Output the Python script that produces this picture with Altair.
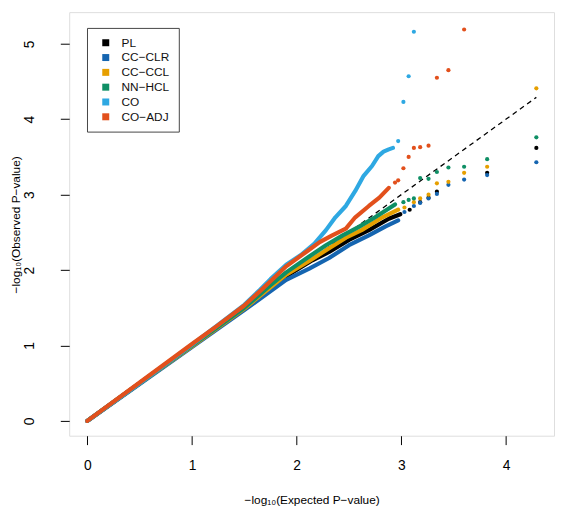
import altair as alt
import pandas as pd

SERIES = ["PL", "CC−CLR", "CC−CCL", "NN−HCL", "CO", "CO−ADJ"]
COLORS = ["#000000", "#1565B0", "#E69F00", "#0F8F65", "#2EA8E2", "#E2501C"]

PL_LINE_X = [0.0, 0.5, 1.0, 1.5, 1.9, 2.15, 2.31, 2.50, 2.69, 2.88, 2.99]
PL_LINE_Y = [0.0, 0.5, 1.0, 1.50, 1.92, 2.13, 2.24, 2.40, 2.53, 2.68, 2.74]
PL_TAIL_X = [3.08, 3.18, 3.26, 3.34, 3.82, 4.29]
PL_TAIL_Y = [2.80, 2.90, 2.96, 3.04, 3.29, 3.62]

CLR_LINE_X = [0.0, 0.5, 1.0, 1.5, 1.9, 2.12, 2.31, 2.50, 2.69, 2.85, 2.97]
CLR_LINE_Y = [0.0, 0.49, 0.98, 1.47, 1.87, 2.02, 2.16, 2.33, 2.46, 2.58, 2.66]
CLR_TAIL_X = [3.03, 3.12, 3.18, 3.26, 3.34, 3.45, 3.60, 3.82, 4.29]
CLR_TAIL_Y = [2.77, 2.85, 2.89, 2.95, 3.01, 3.13, 3.20, 3.26, 3.43]

CCL_LINE_X = [0.0, 0.5, 1.0, 1.5, 1.9, 2.12, 2.31, 2.47, 2.62, 2.82, 2.97]
CCL_LINE_Y = [0.0, 0.5, 0.99, 1.49, 1.94, 2.12, 2.29, 2.43, 2.53, 2.70, 2.80]
CCL_TAIL_X = [3.03, 3.12, 3.18, 3.26, 3.34, 3.45, 3.60, 3.82, 4.29]
CCL_TAIL_Y = [2.83, 2.90, 2.95, 3.00, 3.15, 3.17, 3.29, 3.37, 4.41]

HCL_LINE_X = [0.0, 0.5, 1.0, 1.5, 1.75, 1.90, 2.12, 2.28, 2.44, 2.59, 2.75, 2.94]
HCL_LINE_Y = [0.0, 0.5, 1.0, 1.50, 1.80, 1.97, 2.18, 2.33, 2.46, 2.57, 2.70, 2.87]
HCL_TAIL_X = [3.02, 3.07, 3.12, 3.18, 3.26, 3.34, 3.45, 3.60, 3.82, 4.29]
HCL_TAIL_Y = [2.90, 2.93, 2.95, 3.22, 3.21, 3.30, 3.36, 3.37, 3.47, 3.76]

CO_LINE_X = [0.0, 0.5, 1.0, 1.5, 1.65, 1.75, 1.90, 2.04, 2.17, 2.28, 2.37, 2.47,
             2.56, 2.64, 2.72, 2.78, 2.83, 2.88, 2.92]
CO_LINE_Y = [0.0, 0.5, 1.01, 1.54, 1.74, 1.88, 2.07, 2.20, 2.35, 2.53, 2.70, 2.85,
             3.05, 3.25, 3.38, 3.51, 3.57, 3.60, 3.62]
CO_TAIL_X = [2.97, 3.02, 3.07, 3.12]
CO_TAIL_Y = [3.71, 4.23, 4.57, 5.16]

ADJ_LINE_X = [0.0, 0.5, 1.0, 1.24, 1.5, 1.68, 1.90, 2.09, 2.22, 2.34, 2.47, 2.56,
              2.69, 2.79, 2.88]
ADJ_LINE_Y = [0.0, 0.51, 1.02, 1.26, 1.53, 1.76, 2.05, 2.24, 2.37, 2.46, 2.55, 2.70,
              2.85, 2.96, 3.09]
ADJ_TAIL_X = [2.94, 2.97, 3.02, 3.07, 3.12, 3.18, 3.26, 3.34, 3.45, 3.60]
ADJ_TAIL_Y = [3.16, 3.19, 3.35, 3.50, 3.62, 3.63, 3.65, 4.55, 4.65, 5.19]

DIAG_X = [0.0, 4.29]
DIAG_Y = [0.0, 4.29]

X_TICKS = [0, 1, 2, 3, 4]
Y_TICKS = [0, 1, 2, 3, 4, 5]

LINES = [
    (PL_LINE_X, PL_LINE_Y), (CLR_LINE_X, CLR_LINE_Y), (CCL_LINE_X, CCL_LINE_Y),
    (HCL_LINE_X, HCL_LINE_Y), (CO_LINE_X, CO_LINE_Y), (ADJ_LINE_X, ADJ_LINE_Y),
]
TAILS = [
    (PL_TAIL_X, PL_TAIL_Y), (CLR_TAIL_X, CLR_TAIL_Y), (CCL_TAIL_X, CCL_TAIL_Y),
    (HCL_TAIL_X, HCL_TAIL_Y), (CO_TAIL_X, CO_TAIL_Y), (ADJ_TAIL_X, ADJ_TAIL_Y),
]

FONT = "Liberation Sans"

xs = alt.Scale(domain=[-0.173, 4.459], nice=False, zero=False)
ys = alt.Scale(domain=[-0.196, 5.42], nice=False, zero=False)

x_axis = alt.Axis(
    values=X_TICKS, title="−log₁₀(Expected P−value)", grid=False, domain=False,
    tickSize=9, tickColor="black", labelFontSize=14, labelPadding=21,
    labelBaseline="middle", labelFont=FONT, labelColor="black",
    titleFontSize=12, titleFontWeight="normal", titleFont=FONT, titleColor="black",
    titleX=245.5, titleY=65, titleBaseline="middle", labelFlush=False,
    labelOverlap=False, format="d",
)
y_axis = alt.Axis(
    values=Y_TICKS, title="−log₁₀(Observed P−value)", grid=False, domain=False,
    tickSize=9, tickColor="black", labelFontSize=14, labelPadding=31.5,
    labelAngle=270, labelAlign="center", labelBaseline="middle",
    labelFont=FONT, labelColor="black",
    titleFontSize=12, titleFontWeight="normal", titleFont=FONT, titleColor="black",
    titleX=-54, titleY=215, titleBaseline="middle", titleAngle=270,
    labelFlush=False, labelOverlap=False, format="d",
)

X = alt.X("x:Q", scale=xs, axis=x_axis)
Y = alt.Y("y:Q", scale=ys, axis=y_axis)

fill_scale = alt.Scale(domain=SERIES, range=COLORS)

legend = alt.Legend(
    title=None, orient="none", legendX=18, legendY=16, symbolType="square",
    symbolSize=50, symbolStrokeWidth=0, labelFontSize=12, labelFont=FONT,
    labelColor="#111", padding=9, symbolOffset=4, labelOffset=10,
    rowPadding=3, strokeColor="#444", fillColor="white", symbolOpacity=1,
)

diag_df = pd.DataFrame({"x": DIAG_X, "y": DIAG_Y})
layers = [
    alt.Chart(diag_df).mark_line(color="black", strokeDash=[5, 4], strokeWidth=1.3)
    .encode(x=X, y=Y)
]

for name, color, (lx, ly) in zip(SERIES, COLORS, LINES):
    ldf = pd.DataFrame({"x": lx, "y": ly})
    layers.append(
        alt.Chart(ldf)
        .mark_line(color=color, strokeWidth=4.2, strokeCap="round", strokeJoin="round")
        .encode(x=X, y=Y)
    )

tail_rows = []
for name, (tx, ty) in zip(SERIES, TAILS):
    for a, b in zip(tx, ty):
        tail_rows.append({"x": a, "y": b, "series": name})
tail_df = pd.DataFrame(tail_rows)

layers.append(
    alt.Chart(tail_df).mark_point(filled=True, shape="circle", size=18, opacity=1)
    .encode(x=X, y=Y, color=alt.Color("series:N", scale=fill_scale, legend=legend))
)

chart = (
    alt.layer(*layers)
    .properties(
        width=491, height=429,
        autosize=alt.AutoSizeParams(type="none"),
        padding={"left": 62, "top": 1, "right": 2, "bottom": 68},
    )
    .configure_view(stroke="#555", strokeWidth=1)
    .configure(font=FONT)
)

chart.save("out.html", embed_options={"renderer": "svg", "actions": False})
